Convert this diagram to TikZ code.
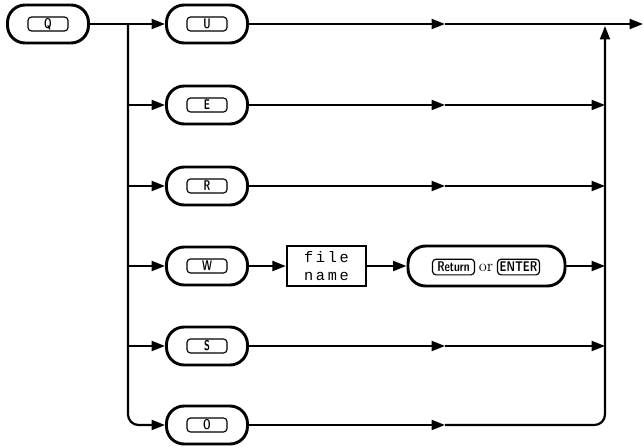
\documentclass[tikz,border=0pt]{standalone}
\usepackage{fontspec}
\usepackage{graphicx}
\usetikzlibrary{arrows.meta}
\newfontfamily\fnmono{Liberation Mono}[LetterSpace=18]
\newcommand\capfont{\fontsize{12}{12}\selectfont\sffamily\bfseries}
\newcommand\kc[2][0.68]{\scalebox{#1}[1]{#2}}
\begin{document}
\begin{tikzpicture}[x=0.03cm,y=-0.03cm,
  conn/.style={line width=1.9pt},
  arr/.style={-{Triangle[length=11.5pt,width=8.5pt]}},
  oval/.style={draw, line width=2.5pt, rounded corners=15pt, minimum width=2.43cm, minimum height=1.14cm, inner sep=0pt},
  keycap/.style={draw, line width=1pt, rounded corners=3pt, minimum width=1.2cm, minimum height=0.42cm, inner sep=0pt, font=\capfont},
  namebox/.style={draw, line width=2pt, minimum width=2.37cm, minimum height=1.2cm, inner sep=0pt, align=center, font=\fnmono\fontsize{13}{15}\selectfont},
  plain/.style={inner sep=0pt}]
\useasboundingbox (0,0) rectangle (643,446);

% start node
\node[oval] (q) at (48,24) {};
\node[keycap] (qk) at (q) {\kc{Q}};

% option nodes
\node[oval] (u) at (207,24) {};
\node[keycap] (uk) at (u) {\kc{U}};
\node[oval] (e) at (207,105) {};
\node[keycap] (ek) at (e) {\kc{E}};
\node[oval] (r) at (207,186) {};
\node[keycap] (rk) at (r) {\kc{R}};
\node[oval] (w) at (207,266) {};
\node[keycap] (wk) at (w) {\kc{W}};
\node[oval] (s) at (207,346) {};
\node[keycap] (sk) at (s) {\kc{S}};
\node[oval] (o) at (207,425) {};
\node[keycap] (ok) at (o) {\kc{O}};

% file name and Return/ENTER
\node[namebox] (fn) at (326.5,266) {file\\name};
\node[oval, minimum width=4.71cm, minimum height=1.2cm] (ro) at (486.5,266) {};
\node[keycap, font=\fontsize{12}{12}\selectfont\sffamily\bfseries, minimum width=1.26cm, minimum height=0.47cm] (ret) at (453.5,267) {\kc[0.74]{Return}};
\node[plain, font=\fontsize{14}{14}\selectfont] (or) at (486,268) {or};
\node[keycap, font=\fontsize{12}{12}\selectfont\sffamily\bfseries, minimum width=1.26cm, minimum height=0.47cm] (ent) at (518.5,267) {\kc[0.76]{ENTER}};

% junction coordinates
\coordinate (b) at (128,24);
\coordinate (rv) at (605,24);
\coordinate (rvt) at (605,26);
\coordinate (endp) at (643,24);
\coordinate (mU) at (445,24);
\coordinate (mE) at (445,105);
\coordinate (mR) at (445,186);
\coordinate (mS) at (445,346);
\coordinate (mO) at (445,425);

% left branch
\draw[conn] (q) -- (b);
\draw[conn,arr] (b) -- (u);
\draw[conn,arr,rounded corners=9pt] (b) |- (o);
\draw[conn,arr] (b |- e) -- (e);
\draw[conn,arr] (b |- r) -- (r);
\draw[conn,arr] (b |- w) -- (w);
\draw[conn,arr] (b |- s) -- (s);

% rows to the right
\draw[conn,arr] (u) -- (mU);
\draw[conn,arr] (mU) -- (endp);
\draw[conn,arr] (e) -- (mE);
\draw[conn,arr] (mE) -- (rv |- e);
\draw[conn,arr] (r) -- (mR);
\draw[conn,arr] (mR) -- (rv |- r);
\draw[conn,arr] (w) -- (fn);
\draw[conn,arr] (fn) -- (ro);
\draw[conn,arr] (ro) -- (rv |- ro);
\draw[conn,arr] (s) -- (mS);
\draw[conn,arr] (mS) -- (rv |- s);
\draw[conn,arr] (o) -- (mO);
\draw[conn,arr,rounded corners=9pt] (mO) -| (rvt);
\end{tikzpicture}
\end{document}
